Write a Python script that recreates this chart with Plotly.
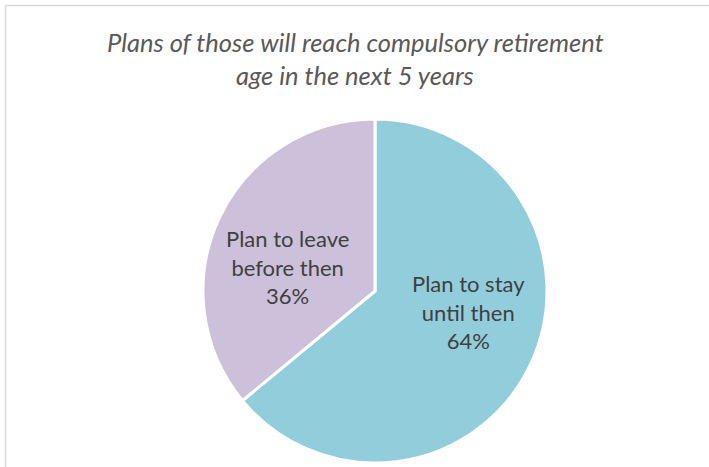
import plotly.graph_objects as go

W, H = 709, 467

categories = ["Plan to stay<br>until then", "Plan to leave<br>before then"]
values = [64, 36]
colors = ["#92CDDC", "#CCC0DA"]
title_lines = ["Plans of those will reach compulsory retirement", "age in the next 5 years"]
# label placement relative to pie centre (dx, dy in pixels, dy down)
label_offsets = [(93, 21), (-88, -24)]

CX, CY, R = 375, 291, 172

fig = go.Figure(go.Pie(
    labels=categories,
    values=values,
    sort=False,
    direction="clockwise",
    rotation=0,
    marker=dict(colors=colors, line=dict(color="#FFFFFF", width=3)),
    textinfo="none",
    hoverinfo="label+percent",
    showlegend=False,
    domain=dict(x=[(CX - R) / W, (CX + R) / W], y=[1 - (CY + R) / H, 1 - (CY - R) / H]),
))

total = sum(values)
annotations = []
for cat, v, (dx, dy) in zip(categories, values, label_offsets):
    annotations.append(dict(
        text=f"{cat}<br>{round(100 * v / total)}%",
        xref="paper", yref="paper",
        x=(CX + dx) / W, y=1 - (CY + dy) / H,
        xanchor="center", yanchor="middle", showarrow=False,
        font=dict(family="Lato", size=22, color="#404040"),
    ))

for line, yb in zip(title_lines, [52, 85]):
    annotations.append(dict(
        text=line, xref="paper", yref="paper",
        x=355 / W, y=1 - (yb + 7) / H, xanchor="center", yanchor="bottom",
        showarrow=False,
        font=dict(family="Lato", size=25.5, color="#595959", style="italic"),
    ))

fig.update_layout(
    width=W, height=H,
    margin=dict(l=0, r=0, t=0, b=0),
    paper_bgcolor="white",
    plot_bgcolor="white",
    annotations=annotations,
    shapes=[
        dict(type="line", xref="paper", yref="paper", x0=5.5 / W, x1=1.02,
             y0=1 - 5.5 / H, y1=1 - 5.5 / H, line=dict(color="#D9D9D9", width=1.5)),
        dict(type="line", xref="paper", yref="paper", x0=5.5 / W, x1=5.5 / W,
             y0=-0.02, y1=1 - 5.5 / H, line=dict(color="#D9D9D9", width=1.5)),
    ],
)

fig.write_html("out.html", config={"displayModeBar": False},
               post_script="document.body.style.margin='0';")
